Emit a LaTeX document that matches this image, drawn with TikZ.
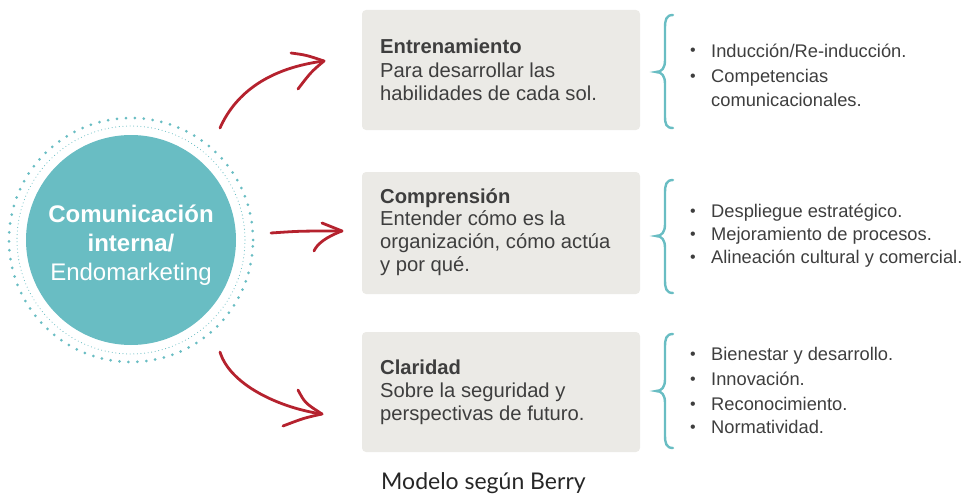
\documentclass[tikz,border=0pt]{standalone}
\usepackage{fontspec}
\setsansfont{Liberation Sans}
\newfontfamily\capfont{Lato}
\definecolor{teal1}{HTML}{69BDC3}
\definecolor{red1}{HTML}{B5222E}
\definecolor{boxgray}{HTML}{EBEAE6}
\definecolor{txt}{HTML}{3E3E3E}
\tikzset{
  boxbg/.style={fill=boxgray, rounded corners=4pt, draw=none},
  ttl/.style={anchor=base west, inner sep=0pt, text=txt, font=\sffamily\bfseries\fontsize{20.2}{23}\selectfont},
  btxt/.style={anchor=base west, inner sep=0pt, text=txt, font=\sffamily\fontsize{20.2}{23}\selectfont},
  ltxt/.style={anchor=base west, inner sep=0pt, text=txt, font=\sffamily\fontsize{18.3}{24}\selectfont},
  bul/.style={anchor=base, inner sep=0pt, text=txt, font=\sffamily\fontsize{16}{24}\selectfont},
  ctxt/.style={anchor=base, inner sep=0pt, text=white, font=\sffamily\fontsize{24}{29}\selectfont},
  brc/.style={draw=teal1, line width=2.4pt, line cap=round},
  arr/.style={draw=red1, line width=2.8pt, line cap=round, line join=round},
}
\begin{document}
\begin{tikzpicture}[x=1pt,y=-1pt]
\useasboundingbox (0,0) rectangle (965,495);
% circle
\coordinate (cc) at (131,240);
\fill[teal1] (cc) circle (105pt);
\foreach \a in {0,4.2,...,359} \fill[teal1] (cc) ++(\a:122pt) circle (1.5pt);
\draw[teal1, line width=1.1pt, line cap=round, dash pattern=on 0pt off 3.6pt] (cc) circle (114pt);
\node[ctxt] (c1) at (131,222) {\bfseries Comunicación};
\node[ctxt] (c2) at (131,251) {\bfseries interna/};
\node[ctxt] (c3) at (131,280) {Endomarketing};
% boxes
\path[boxbg] (362,10) rectangle (640,130);
\path[boxbg] (362,172) rectangle (640,294);
\path[boxbg] (362,332) rectangle (640,452);
\node[ttl] (t1) at (380,53) {Entrenamiento};
\node[btxt] (t1a) at (380,77) {Para desarrollar las};
\node[btxt] (t1b) at (380,100) {habilidades de cada sol.};
\node[ttl] (t2) at (380,203) {Comprensión};
\node[btxt] (t2a) at (380,225) {Entender cómo es la};
\node[btxt] (t2b) at (380,248) {organización, cómo actúa};
\node[btxt] (t2c) at (380,271) {y por qué.};
\node[ttl] (t3) at (380,374) {Claridad};
\node[btxt] (t3a) at (380,397) {Sobre la seguridad y};
\node[btxt] (t3b) at (380,420) {perspectivas de futuro.};
% braces
\draw[brc] (673,15) .. controls (666,15) and (665,20) .. (665,28) -- (665,60) .. controls (665,68) and (662,72) .. (656,72) .. controls (662,72) and (665,76) .. (665,84) -- (665,116) .. controls (665,124) and (666,128) .. (673,128);
\draw[brc] (673,180) .. controls (666,180) and (665,185) .. (665,193) -- (665,224) .. controls (665,232) and (662,236) .. (656,236) .. controls (662,236) and (665,240) .. (665,248) -- (665,280) .. controls (665,288) and (666,293) .. (673,293);
\draw[brc] (673,334) .. controls (666,334) and (665,339) .. (665,347) -- (665,379) .. controls (665,387) and (662,391) .. (656,391) .. controls (662,391) and (665,395) .. (665,403) -- (665,435) .. controls (665,443) and (666,448) .. (673,448);
% lists
\node[bul] (b11) at (693,56) {•};
\node[ltxt] (l11) at (711,57) {Inducción/Re-inducción.};
\node[bul] (b12) at (693,81) {•};
\node[ltxt] (l12) at (711,82) {Competencias};
\node[ltxt] (l13) at (711,106) {comunicacionales.};
\node[bul] (b21) at (693,216) {•};
\node[ltxt] (l21) at (711,217) {Despliegue estratégico.};
\node[bul] (b22) at (693,239) {•};
\node[ltxt] (l22) at (711,240) {Mejoramiento de procesos.};
\node[bul] (b23) at (693,262) {•};
\node[ltxt] (l23) at (711,263) {Alineación cultural y comercial.};
\node[bul] (b31) at (693,359) {•};
\node[ltxt] (l31) at (711,360) {Bienestar y desarrollo.};
\node[bul] (b32) at (693,384) {•};
\node[ltxt] (l32) at (711,385) {Innovación.};
\node[bul] (b33) at (693,409) {•};
\node[ltxt] (l33) at (711,410) {Reconocimiento.};
\node[bul] (b34) at (693,432) {•};
\node[ltxt] (l34) at (711,433) {Normatividad.};
% arrows
\coordinate (a1s) at (220,128); \coordinate (a1t) at (324,61);
\coordinate (a1u) at (291,53); \coordinate (a1d) at (298,89);
\draw[arr] (a1s) .. controls (236,92) and (270,68) .. (a1t);
\draw[arr] (a1u) .. controls (306,55) .. (a1t) .. controls (311,72) .. (a1d);
\coordinate (a2s) at (271,233); \coordinate (a2t) at (342,231);
\coordinate (a2u) at (322,223); \coordinate (a2d) at (314,251);
\draw[arr] (a2s) .. controls (300,231) .. (a2t);
\draw[arr] (a2u) -- (a2t) .. controls (326,237) and (317,244) .. (a2d);
\coordinate (a3s) at (220,352); \coordinate (a3t) at (322,414);
\coordinate (a3u) at (298,390); \coordinate (a3d) at (283,426);
\draw[arr] (a3s) .. controls (230,385) and (280,408) .. (a3t);
\draw[arr] (a3u) .. controls (305,403) .. (a3t) .. controls (304,418) .. (a3d);
% caption
\node[anchor=base west, inner sep=0pt, text=black!85, font=\capfont\fontsize{23}{26}\selectfont] (cap) at (381,489) {Modelo según Berry};
\end{tikzpicture}
\end{document}
